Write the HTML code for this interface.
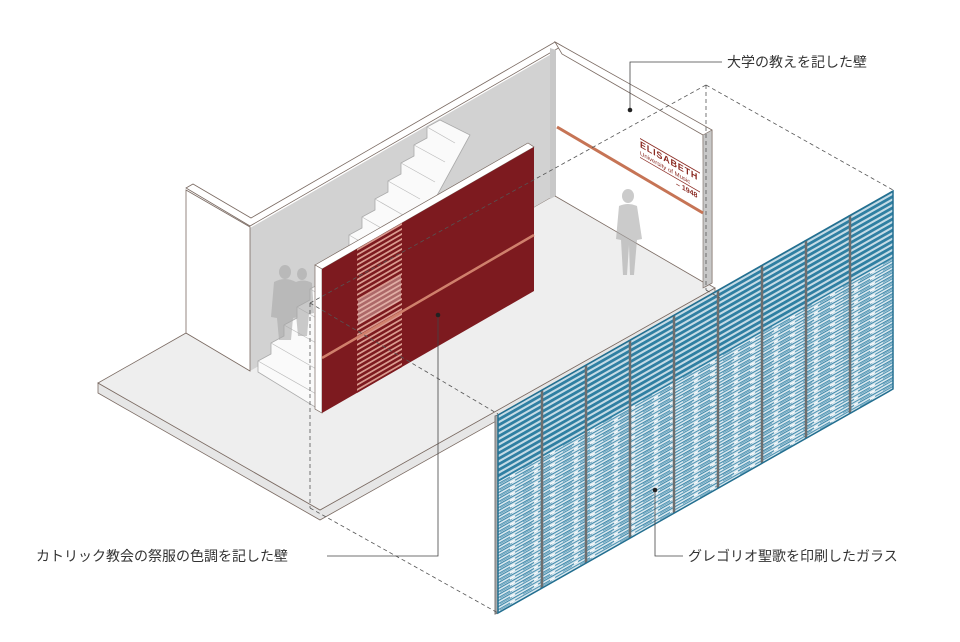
<!DOCTYPE html>
<html><head><meta charset="utf-8"><style>
html,body{margin:0;padding:0;background:#fff;}
svg{display:block;}
text{font-family:"Liberation Sans","Noto Sans CJK JP",sans-serif;}
</style></head><body>
<svg width="960" height="642" viewBox="0 0 960 642" xmlns="http://www.w3.org/2000/svg">
<defs>
<pattern id="stripe" width="10" height="5.6" patternUnits="userSpaceOnUse" patternTransform="skewY(-29.5)">
<rect width="10" height="5.6" fill="#c4dbe6"/><rect width="10" height="3.2" fill="#2f7fa2"/>
</pattern>
<pattern id="noise" width="40" height="6" patternUnits="userSpaceOnUse" patternTransform="skewY(-29.5)">
<rect width="40" height="6" fill="#dce9f0"/>
<rect y="0" width="40" height="1.2" fill="#3a86a8"/>
<rect y="3" width="40" height="1.2" fill="#4a91b1"/>
<rect x="3" y="1.5" width="9" height="1" fill="#6fa6c0"/>
<rect x="20" y="4.5" width="12" height="1" fill="#6fa6c0"/>
<rect x="14" y="0" width="4" height="1.2" fill="#fff"/>
<rect x="30" y="3" width="5" height="1.2" fill="#fff"/>
</pattern>
<pattern id="redstripe" width="10" height="5" patternUnits="userSpaceOnUse" patternTransform="skewY(-30)">
<rect width="10" height="5" fill="#7d1a1f"/><rect width="10" height="2" fill="#d99a8e"/>
</pattern>
</defs>

<!-- floor slab -->
<polygon points="98,383 320,510 715,288 715,298 320,520 98,393" fill="#e6e6e6" stroke="#7a6a62" stroke-width="0.8"/>
<polygon points="98,383 186,333 250,370 555,195 715,288 320,510" fill="#eeeeee" stroke="#7a6a62" stroke-width="0.8"/>

<!-- back gray wall -->
<polygon points="250,228 555,52 555,195 250,371" fill="#d2d2d2"/>
<!-- left end wall -->
<polygon points="186,190 250,227 250,371 186,333" fill="#ffffff" stroke="#7a6a62" stroke-width="0.8"/>
<polygon points="186,188 193,184 251,218 555,42 562,46 250,226" fill="#fff" stroke="#7a6a62" stroke-width="0.8"/>
<!-- right wall -->
<polygon points="555,50 703,135 703,282 555,196" fill="#ffffff"/>
<polygon points="550,48 556,50 556,196 550,199" fill="#c8c8c8"/>
<polygon points="555,42 712,130 712,283 705,287 703,135 562,54" fill="#fff" stroke="#7a6a62" stroke-width="0.8"/>
<polygon points="703,135 712,130 712,283 703,288" fill="#c8c8c8" stroke="#7a6a62" stroke-width="0.6"/>
<line x1="555" y1="196" x2="703" y2="282" stroke="#7a6a62" stroke-width="0.8"/>
<line x1="557" y1="127" x2="703" y2="213" stroke="#c67455" stroke-width="3"/>
<g transform="translate(640,147) skewY(30)" fill="#8b2a22" font-family="Liberation Serif,serif">
<rect x="0" y="-9" width="60" height="1" /><text x="0" y="0" font-size="9" letter-spacing="0.8" font-weight="bold">ELISABETH</text>
<text x="0" y="8" font-size="6">University of Music</text><rect x="0" y="10" width="60" height="0.8"/>
<text x="36" y="18" font-size="7" font-weight="bold">– 1948</text>
</g>

<!-- stairs -->
<polygon points="440,120 427,127 427,138 414,145 414,156 401,163 401,174 388,181 388,192 375,199 375,210 362,217 362,228 349,235 349,246 336,253 336,264 323,271 323,282 310,289 310,300 297,307 297,318 284,325 284,336 271,343 271,354 258,361 258,372 320,410 470,135" fill="#fafafa" stroke="#aaa" stroke-width="0.8"/>
<g stroke="#bbb" stroke-width="0.7">
<line x1="427" y1="127" x2="455" y2="143"/><line x1="414" y1="145" x2="445" y2="162"/><line x1="401" y1="163" x2="435" y2="182"/><line x1="388" y1="181" x2="420" y2="199"/><line x1="375" y1="199" x2="410" y2="219"/><line x1="362" y1="217" x2="395" y2="236"/><line x1="349" y1="235" x2="380" y2="253"/><line x1="336" y1="253" x2="370" y2="272"/><line x1="323" y1="271" x2="350" y2="287"/><line x1="310" y1="289" x2="330" y2="300"/><line x1="297" y1="307" x2="320" y2="320"/><line x1="284" y1="325" x2="318" y2="344"/><line x1="271" y1="343" x2="318" y2="370"/><line x1="258" y1="361" x2="318" y2="395"/>
</g>
<!-- people -->
<g fill="#a9a9a9" opacity="0.6">
<ellipse cx="285" cy="272" rx="6" ry="7"/><path d="M274,282 q11,-6 22,0 l3,35 -6,1 -2,22 -12,0 -2,-22 -6,-1z"/>
<ellipse cx="302" cy="274" rx="5" ry="6"/><path d="M294,283 q9,-5 18,0 l2,30 -5,1 -2,22 -9,0 -2,-22 -4,-1z"/>
<ellipse cx="628" cy="196" rx="6" ry="7"/><path d="M619,206 q9,-4 18,0 l5,33 -5,1 -3,35 -4,0 -1,-30 -2,30 -4,0 -2,-35 -5,-1z"/>
</g>

<!-- red wall -->
<polygon points="315,265 528,143 534,147 322,269" fill="#fff" stroke="#7a6a62" stroke-width="0.7"/>
<polygon points="315,265 322,269 322,413 315,409" fill="#fff" stroke="#7a6a62" stroke-width="0.7"/>
<polygon points="322,269 534,147 534,291 322,413" fill="#7d1a1f"/>
<polygon points="357,249 402,223 402,367 357,393" fill="url(#redstripe)"/>
<polygon points="358,300 401,275 401,300 358,325" fill="#e8c8c0" opacity="0.45"/>
<line x1="322" y1="358" x2="534" y2="235" stroke="#d0806c" stroke-width="2.5"/>

<!-- glass wall -->
<polygon points="495,416 498,415 498,613 495,614" fill="#aaa" stroke="#777" stroke-width="1"/>
<polygon points="498,415 893,191 893,389 498,613" fill="url(#noise)"/>
<polygon points="498,415 893,191 893,258 498,482" fill="url(#stripe)"/>
<g stroke="#6e6e6e" stroke-width="2.5">
<line x1="542" y1="390" x2="542" y2="588"/><line x1="586" y1="365" x2="586" y2="563"/><line x1="630" y1="340" x2="630" y2="538"/><line x1="674" y1="315" x2="674" y2="513"/><line x1="718" y1="290" x2="718" y2="488"/><line x1="762" y1="265" x2="762" y2="463"/><line x1="806" y1="240" x2="806" y2="438"/><line x1="850" y1="215" x2="850" y2="413"/>
</g>
<polygon points="498,415 893,191 893,389 498,613" fill="none" stroke="#236f90" stroke-width="1.5"/>

<!-- dashed projection lines -->
<g stroke="#555" stroke-width="0.8" stroke-dasharray="4,3" fill="none">
<line x1="310" y1="303" x2="706" y2="85"/>
<line x1="706" y1="85" x2="706" y2="290"/>
<line x1="706" y1="85" x2="893" y2="190"/>
<line x1="310" y1="303" x2="310" y2="508"/>
<line x1="310" y1="303" x2="498" y2="414"/>
<line x1="310" y1="508" x2="498" y2="613"/>
<line x1="706" y1="290" x2="720" y2="298"/>
</g>

<!-- leaders -->
<g stroke="#444" stroke-width="0.8" fill="none">
<polyline points="630,110 630,62 722,62"/>
<polyline points="438,315 438,556 327,556"/>
<polyline points="655,490 655,556 683,556"/>
</g>
<g fill="#222"><circle cx="630" cy="110" r="2.3"/><circle cx="438" cy="315" r="2.3"/><circle cx="655" cy="490" r="2.3"/></g>
<g fill="#333" font-size="14">
<text x="727" y="67">大学の教えを記した壁</text>
<text x="36" y="561">カトリック教会の祭服の色調を記した壁</text>
<text x="688" y="561">グレゴリオ聖歌を印刷したガラス</text>
</g>
</svg>
</body></html>
